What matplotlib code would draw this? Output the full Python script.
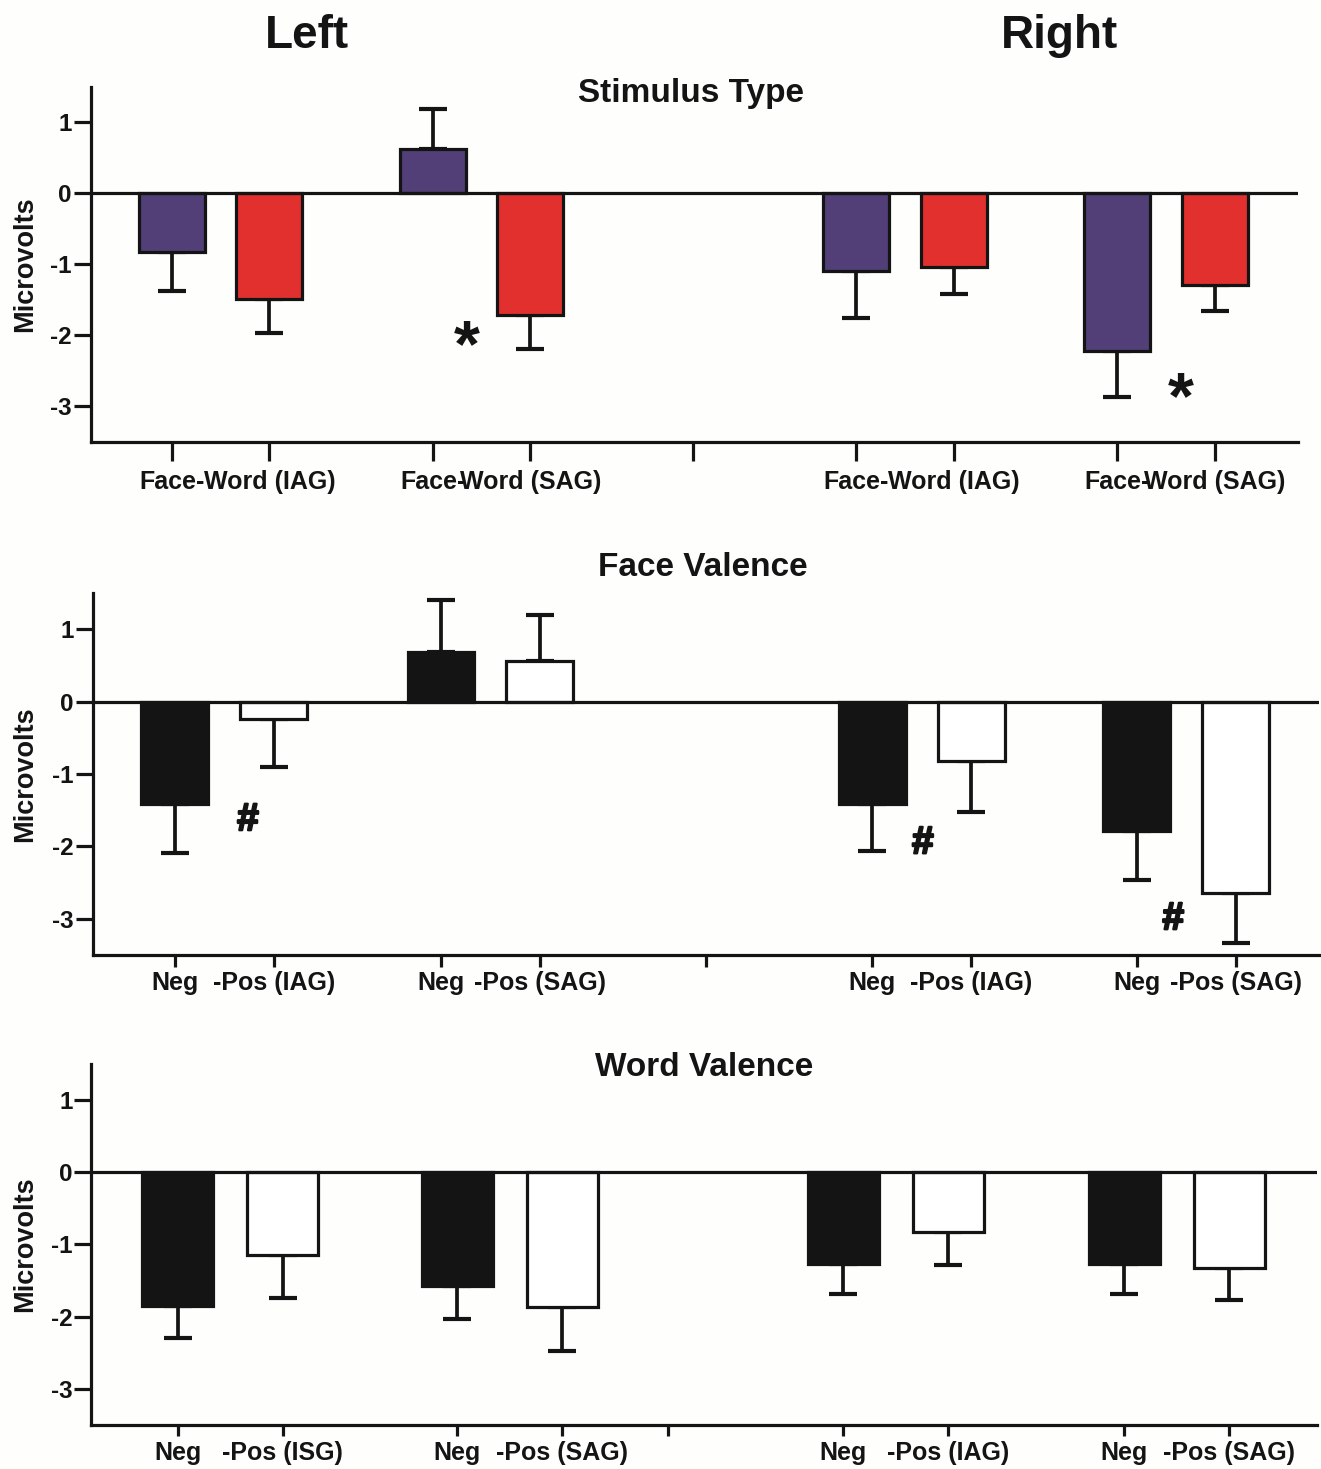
import matplotlib
matplotlib.use('Agg')
import matplotlib.pyplot as plt
import matplotlib.patheffects as pe

plt.rcParams['font.family'] = ['Liberation Sans', 'DejaVu Sans']
plt.rcParams['font.weight'] = 'bold'
plt.rcParams['axes.unicode_minus'] = False

# ---------------- data ----------------
PURPLE = '#523F77'
RED = '#E2302E'
BLACK = '#141414'
WHITE = '#FFFFFF'

# Panel 1: Stimulus Type
st_labels = ["Face-", "Word (IAG)", "Face-", "Word (SAG)", "Face-", "Word (IAG)", "Face-", "Word (SAG)"]
st_pos = [0, 1, 2.67, 3.67, 7.0, 8.0, 9.67, 10.67]
st_values = [-0.82, -1.49, 0.62, -1.72, -1.10, -1.04, -2.22, -1.29]
st_sem = [0.55, 0.48, 0.56, 0.47, 0.66, 0.38, 0.65, 0.36]
st_colors = [PURPLE, RED, PURPLE, RED, PURPLE, RED, PURPLE, RED]
st_mid = 5.33
st_xlim = (-0.83, 11.52)
st_marks = [("*", 3.02, -2.00), ("*", 10.32, -2.73)]

# Panel 2: Face Valence
fv_labels = ["Neg", "-Pos (IAG)", "Neg", "-Pos (SAG)", "Neg", "-Pos (IAG)", "Neg", "-Pos (SAG)"]
fv_pos = [0, 1, 2.69, 3.69, 7.05, 8.05, 9.72, 10.72]
fv_values = [-1.41, -0.24, 0.69, 0.56, -1.41, -0.82, -1.79, -2.65]
fv_sem = [0.69, 0.66, 0.71, 0.64, 0.65, 0.70, 0.67, 0.69]
fv_colors = [BLACK, WHITE] * 4
fv_mid = 5.37
fv_xlim = (-0.83, 11.56)
fv_marks = [("#", 0.74, -1.59), ("#", 7.56, -1.91), ("#", 10.09, -2.96)]

# Panel 3: Word Valence
wv_labels = ["Neg", "-Pos (ISG)", "Neg", "-Pos (SAG)", "Neg", "-Pos (IAG)", "Neg", "-Pos (SAG)"]
wv_pos = [0, 1, 2.66, 3.66, 6.33, 7.33, 9.0, 10.0]
wv_values = [-1.85, -1.14, -1.58, -1.86, -1.27, -0.83, -1.27, -1.32]
wv_sem = [0.45, 0.60, 0.45, 0.61, 0.42, 0.46, 0.42, 0.45]
wv_colors = [BLACK, WHITE] * 4
wv_mid = 4.66
wv_xlim = (-0.82, 10.83)
wv_marks = []

titles = ["Stimulus Type", "Face Valence", "Word Valence"]
y_ticks = [-3, -2, -1, 0, 1]
y_lim = (-3.5, 1.5)
side_labels = ["Left", "Right"]

# ---------------- figure ----------------
W, H = 1321, 1469
fig = plt.figure(figsize=(W / 100, H / 100), dpi=100, facecolor='#FEFEFC')

def px_rect(left, right, top, bottom):
    return [left / W, 1 - bottom / H, (right - left) / W, (bottom - top) / H]

rects = [px_rect(90.5, 1297.6, 86.6, 442.0),
         px_rect(92.6, 1318.7, 593.2, 954.7),
         px_rect(91.3, 1316.6, 1064.0, 1425.0)]
title_y = [102, 576, 1076]
title_x = [691.5, 703, 704]
xtick_len = [13.5, 8.6, 8.2]
xtick_pad = [6.5, 3.0, 3.0]

panels = [
    (st_labels, st_pos, st_values, st_sem, st_colors, st_mid, st_xlim, st_marks),
    (fv_labels, fv_pos, fv_values, fv_sem, fv_colors, fv_mid, fv_xlim, fv_marks),
    (wv_labels, wv_pos, wv_values, wv_sem, wv_colors, wv_mid, wv_xlim, wv_marks),
]

LW = 2.3
for i, (labels, pos, vals, sem, cols, mid, xlim, marks) in enumerate(panels):
    ax = fig.add_axes(rects[i])
    ax.set_facecolor('none')
    lower = [s if v < 0 else 0 for v, s in zip(vals, sem)]
    upper = [s if v >= 0 else 0 for v, s in zip(vals, sem)]
    ax.errorbar(pos, vals, yerr=[lower, upper], fmt='none', ecolor=BLACK,
                elinewidth=2.7, capsize=10, capthick=3.0, zorder=2)
    ax.bar(pos, vals, width=0.675, color=cols, edgecolor=BLACK, linewidth=LW, zorder=3)
    ax.axhline(0, color=BLACK, lw=LW, zorder=4)
    ax.set_xlim(*xlim)
    ax.set_ylim(*y_lim)
    ax.set_yticks(y_ticks)
    ax.set_yticklabels([str(t) for t in y_ticks])
    ax.set_xticks(list(pos) + [mid])
    ax.set_xticklabels(list(labels) + [''])
    for s in ['top', 'right']:
        ax.spines[s].set_visible(False)
    for s in ['left', 'bottom']:
        ax.spines[s].set_linewidth(LW)
        ax.spines[s].set_color(BLACK)
    ax.tick_params(axis='x', direction='out', length=xtick_len[i], width=LW,
                   pad=xtick_pad[i], labelsize=18, colors=BLACK)
    ax.tick_params(axis='y', direction='out', length=12, width=LW, pad=1.5,
                   labelsize=17.5, colors=BLACK)
    for t in ax.get_xticklabels() + ax.get_yticklabels():
        t.set_fontweight('bold')
    for sym, x, y in marks:
        fs = 48 if sym == '*' else 28
        off = -0.46 * fs if sym == '*' else -0.35 * fs
        effects = [] if sym == '*' else [pe.withStroke(linewidth=1.6, foreground=BLACK)]
        ax.annotate(sym, (x, y), xytext=(0, off), textcoords='offset points',
                    ha='center', va='baseline', fontsize=fs, fontweight='bold',
                    color=BLACK, zorder=5, path_effects=effects)
    # y label
    yc = rects[i][1] + rects[i][3] / 2
    fig.text(25 / W, yc, 'Microvolts', rotation=90, ha='center', va='center',
             fontsize=19.5, fontweight='bold', color=BLACK)
    fig.text(title_x[i] / W, 1 - title_y[i] / H, titles[i], ha='center',
             va='baseline', fontsize=24, fontweight='bold', color=BLACK)

fig.text(307 / W, 1 - 48 / H, side_labels[0], ha='center', va='baseline',
         fontsize=33, fontweight='bold', color=BLACK)
fig.text(1060 / W, 1 - 48 / H, side_labels[1], ha='center', va='baseline',
         fontsize=33, fontweight='bold', color=BLACK)

fig.savefig('out.png', dpi=100, facecolor=fig.get_facecolor())
